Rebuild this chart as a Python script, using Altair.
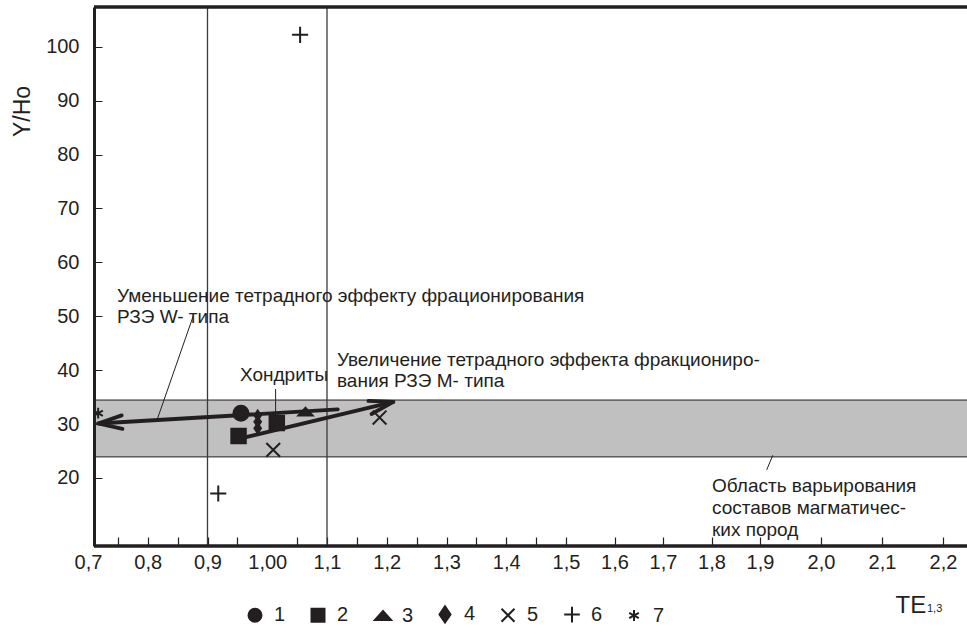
import math
import altair as alt
import pandas as pd

# ---------------- data ----------------
categories = ["1", "2", "3", "4", "5", "6", "7"]

point_cat = ["1", "2", "2", "3", "4", "4", "4", "5", "5", "6", "6", "7"]
point_te = [0.956, 0.952, 1.016, 1.064, 0.984, 0.984, 0.984, 1.010, 1.188, 1.055, 0.918, 0.717]
point_yho = [32.0, 27.8, 30.2, 32.3, 31.6, 30.4, 29.2, 25.2, 31.2, 102.2, 17.1, 32.0]

band_te = [0.71, 2.30]
band_yho = [23.9, 34.45]

guide_te = [0.9, 1.1]

arrow_te0 = [1.118, 0.943]
arrow_yho0 = [32.7, 27.0]
arrow_te1 = [0.717, 1.211]
arrow_yho1 = [30.1, 34.1]

leader_te0 = [0.876, 1.014, 1.921]
leader_yho0 = [50.0, 36.5, 24.2]
leader_te1 = [0.816, 1.014, 1.911]
leader_yho1 = [30.9, 31.7, 21.5]

note_text = [
    "Уменьшение тетрадного эффекту фрационирования",
    "РЗЭ W- типа",
    "Хондриты",
    "Увеличение тетрадного эффекта фракциониро-",
    "вания РЗЭ М- типа",
    "Область варьирования",
    "составов магматичес-",
    "ких пород",
]
note_te = [0.7485, 0.7485, 0.9544, 1.1167, 1.1167, 1.801, 1.801, 1.801]
note_yho = [52.7, 48.7, 38.0, 40.8, 36.9, 17.4, 13.3, 9.2]

x_label_values = [0.7, 0.8, 0.9, 1.0, 1.1, 1.2, 1.3, 1.4, 1.5, 1.6, 1.7, 1.8, 1.9, 2.0, 2.1, 2.2]
x_label_text = ["0,7", "0,8", "0,9", "1,00", "1,1", "1,2", "1,3", "1,4", "1,5",
                "1,6", "1,7", "1,8", "1,9", "2,0", "2,1", "2,2"]
x_minor_values = [0.75, 0.85, 0.95, 1.05, 1.15, 1.25, 1.35, 1.45]
y_tick_values = [20, 30, 40, 50, 60, 70, 80, 90, 100]

# ---------------- style ----------------
FONT = "Liberation Sans"
INK = "#231f20"
W, H = 873, 539
KX, KY = 597.5, 5.39  # px per unit, used only for arrowhead orientation

x_scale = alt.Scale(domain=[0.7, 1.5, 1.9, 2.2], range=[-6, 472, 666, 849])
y_scale = alt.Scale(domain=[7.37, 107.37], nice=False, zero=False)

label_expr = " : ".join(
    f"abs(datum.value - {v}) < 1e-6 ? '{t}'" for v, t in zip(x_label_values, x_label_text)
) + " : ''"

x_axis = alt.Axis(
    values=sorted(x_label_values + x_minor_values), labelExpr=label_expr,
    grid=False, domain=False, ticks=True, tickSize={"expr": "-9"}, tickColor=INK, tickWidth=1.2,
    tickOpacity={"condition": {"test": "datum.value < 0.72 || abs(datum.value - 1) < 1e-6", "value": 0}, "value": 1},
    labelFont=FONT, labelFontSize=20, labelColor=INK, labelPadding=15,
    labelOverlap=False, labelFlush=False, labelBound=False,
    title="TE", titleFont=FONT, titleFontSize=24, titleFontWeight="normal", titleColor=INK,
    titleX=801, titleY=66, titleAlign="left", titleBaseline="alphabetic", titleAngle=0,
)
y_axis = alt.Axis(
    values=y_tick_values, grid=False, domain=True, domainColor=INK, domainWidth=3,
    ticks=True, tickSize={"expr": "-8"}, tickColor=INK, tickWidth=1,
    labelFont=FONT, labelFontSize=20, labelColor=INK, labelPadding=23, labelOverlap=False,
    title="Y/Ho", titleFont=FONT, titleFontSize=23, titleFontWeight="normal", titleColor=INK,
    titleX=-72, titleY=104, titleAngle=270, titleAlign="center", titleBaseline="middle", zindex=2,
)


def X(field):
    return alt.X(f"{field}:Q", scale=x_scale, axis=x_axis)


def Y(field):
    return alt.Y(f"{field}:Q", scale=y_scale, axis=y_axis)


X_PATH = "M-1,-1L1,1M-1,1L1,-1"
PLUS_PATH = "M-1.2,0L1.2,0M0,-1.2L0,1.2"
STAR_PATH = "M0,-0.85L0,0.85M-0.74,-0.42L0.74,0.42M-0.74,0.42L0.74,-0.42"
TRI_PATH = "M-1.25,0.7L1.25,0.7L0,-0.7Z"
DIAM_PATH = "M0,-1.25L0.85,0L0,1.25L-0.85,0Z"
ARROW_PATH = "M-1,-0.28L0,0L-1,0.28"

shape_range = ["circle", "square", TRI_PATH, DIAM_PATH, X_PATH, PLUS_PATH, STAR_PATH]
marker_size = dict(zip(categories, [225, 210, 130, 60, 190, 180, 160]))

# ---------------- tables ----------------
points_df = pd.DataFrame({"cat": point_cat, "te": point_te, "yho": point_yho})
points_df["sz"] = points_df["cat"].map(marker_size)
band_df = pd.DataFrame({"te": [band_te[0]], "te1": [band_te[1]], "yho": [band_yho[0]], "yho1": [band_yho[1]]})
guide_df = pd.DataFrame({"te": guide_te})
arrow_df = pd.DataFrame({"te": arrow_te0, "yho": arrow_yho0, "te1": arrow_te1, "yho1": arrow_yho1})
head_df = pd.DataFrame({
    "te": arrow_te1, "yho": arrow_yho1,
    "ang": [math.degrees(math.atan2(-(b1 - b0) * KY, (a1 - a0) * KX)) % 360
            for a0, b0, a1, b1 in zip(arrow_te0, arrow_yho0, arrow_te1, arrow_yho1)],
})
leader_df = pd.DataFrame({"te": leader_te0, "yho": leader_yho0, "te1": leader_te1, "yho1": leader_yho1})
note_df = pd.DataFrame({"text": note_text, "te": note_te, "yho": note_yho})
one = pd.DataFrame({"t": ["1,3"]})

# ---------------- layers ----------------
band = alt.Chart(band_df).mark_rect(fill="#c0c0c0", stroke=INK, strokeWidth=1).encode(
    x=X("te"), x2="te1", y=Y("yho"), y2="yho1")

guides = alt.Chart(guide_df).mark_rule(color="#3a3a3a", strokeWidth=1.3).encode(x=X("te"))

leaders = alt.Chart(leader_df).mark_rule(color=INK, strokeWidth=1).encode(
    x=X("te"), y=Y("yho"), x2="te1", y2="yho1")

arrows = alt.Chart(arrow_df).mark_rule(color=INK, strokeWidth=3.8, strokeCap="round").encode(
    x=X("te"), y=Y("yho"), x2="te1", y2="yho1")

heads = alt.Chart(head_df).mark_point(
    shape=ARROW_PATH, size=2300, filled=False, stroke=INK, strokeWidth=3.8, opacity=1,
    strokeCap="round", strokeJoin="round").encode(
    x=X("te"), y=Y("yho"), angle=alt.Angle("ang:Q", scale=None))

points = alt.Chart(points_df).mark_point(
    filled=True, fill=INK, stroke=INK, strokeWidth=2, opacity=1).encode(
    x=X("te"), y=Y("yho"),
    shape=alt.Shape("cat:N", scale=alt.Scale(domain=categories, range=shape_range),
                    legend=alt.Legend(
                        title=None, orient="none", legendX=151, legendY=597, direction="horizontal",
                        labelFont=FONT, labelFontSize=20, labelColor=INK, labelOffset=9,
                        columnPadding=21, padding=0, symbolSize=169, symbolStrokeWidth=2,
                        symbolOpacity=1)),
    size=alt.Size("sz:Q", scale=None),
)

notes = alt.Chart(note_df).mark_text(
    align="left", baseline="alphabetic", font=FONT, fontSize=19, color=INK).encode(
    x=X("te"), y=Y("yho"), text="text:N")

top_border = alt.Chart(one).mark_rule(color=INK, strokeWidth=3.5).encode(
    x=alt.value(0), x2=alt.value(W), y=alt.value(0))
x_line = alt.Chart(one).mark_rule(color=INK, strokeWidth=3.5).encode(
    x=alt.value(0), x2=alt.value(W), y=alt.value(H))
sub = alt.Chart(one).mark_text(align="left", baseline="alphabetic", font=FONT, fontSize=11, color=INK).encode(
    text="t:N", x=alt.value(833), y=alt.value(605))

chart = alt.layer(
    band, guides, leaders, arrows, heads, points, notes, top_border, x_line, sub
).properties(
    width=W, height=H, autosize="none",
    padding={"left": 94, "top": 7, "right": 0, "bottom": 90},
    background="white",
).configure_view(stroke=None).configure(font=FONT)

chart.save("out.html", embed_options={"renderer": "svg", "actions": False})
